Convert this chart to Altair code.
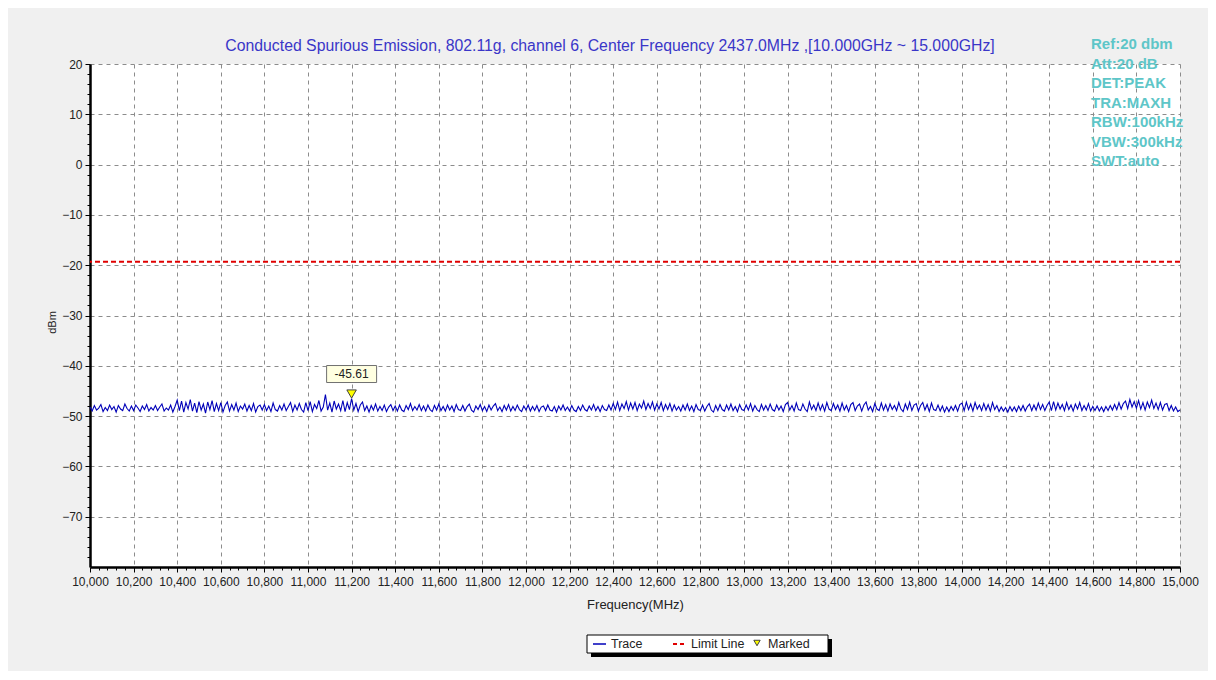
import altair as alt
import pandas as pd

# ---------------- data ----------------
FREQ_START = 10000
FREQ_STEP = 10

trace_10g = [
    -48.2, -49.0, -47.9, -48.8, -48.4, -47.7, -49.1, -48.3, -48.9, -47.8,
    -48.7, -48.1, -49.2, -47.9, -48.6, -48.9, -47.6, -48.5, -49.0, -48.0,
    -48.9, -47.8, -48.4, -49.1, -48.0, -48.7, -47.7, -49.0, -48.3, -48.8,
    -47.9, -48.9, -48.2, -47.6, -49.0, -48.4, -48.8, -47.8, -49.2, -48.1,
    -46.8, -48.9, -47.0, -49.2, -47.3, -48.6, -46.7, -49.0, -47.4, -49.3,
    -47.1, -48.8, -47.6, -49.4, -47.2, -48.7, -46.9, -49.1, -47.5, -48.9,
    -47.3, -49.2, -47.9, -47.2, -49.0, -47.7, -48.8, -47.4, -49.1, -48.0,
    -48.6, -47.6, -49.0, -47.9, -48.9, -47.5, -49.2, -48.1, -47.8, -48.8,
    -47.7, -48.9, -48.0, -49.1, -47.4, -48.7, -49.0, -47.9, -48.8, -47.6,
    -48.9, -48.1, -47.3, -49.1, -47.8, -48.8, -47.5, -48.7, -49.2, -47.3,
]
trace_11g = [
    -48.9, -47.1, -49.1, -47.7, -48.5, -46.9, -49.0, -48.2, -45.7, -48.8,
    -47.4, -49.2, -47.0, -48.6, -47.6, -48.9, -46.9, -49.1, -47.3, -48.7,
    -46.5, -48.8, -47.5, -49.1, -47.8, -47.2, -48.9, -48.0, -49.2, -47.9,
    -48.8, -47.6, -49.0, -48.1, -48.9, -47.8, -49.1, -48.2, -47.7, -48.9,
    -48.0, -49.0, -47.8, -48.8, -49.1, -47.9, -48.7, -47.5, -48.9, -48.1,
    -48.8, -47.7, -48.9, -48.0, -49.0, -47.8, -48.7, -49.1, -47.9, -48.8,
    -47.6, -48.9, -48.1, -49.0, -47.8, -48.8, -48.0, -49.1, -47.7, -48.7,
    -48.9, -47.9, -49.0, -48.1, -47.6, -48.8, -49.2, -48.0, -48.7, -47.7,
    -48.9, -48.1, -49.1, -47.8, -48.8, -48.0, -47.5, -48.9, -48.2, -49.1,
    -47.9, -48.8, -47.7, -49.0, -48.1, -48.9, -47.8, -48.7, -49.1, -48.0,
]
trace_12g = [
    -48.8, -47.8, -49.0, -48.1, -48.9, -47.9, -49.1, -48.2, -48.0, -48.9,
    -47.8, -48.8, -49.0, -48.1, -49.2, -48.0, -48.8, -47.8, -48.9, -48.2,
    -49.0, -47.9, -48.8, -49.1, -48.1, -48.9, -47.8, -48.7, -49.0, -48.0,
    -48.8, -47.7, -48.9, -48.1, -49.1, -47.9, -48.7, -48.9, -47.8, -48.8,
    -47.5, -48.7, -47.2, -48.9, -47.6, -48.5, -47.1, -48.8, -47.4, -48.6,
    -47.3, -48.9, -47.6, -48.4, -47.0, -48.7, -47.5, -48.5, -47.2, -48.8,
    -47.6, -48.6, -47.3, -48.9, -47.7, -48.7, -47.5, -49.0, -47.8, -48.8,
    -48.1, -49.0, -47.8, -48.8, -47.6, -48.9, -48.0, -49.1, -47.7, -48.7,
    -48.9, -47.8, -49.0, -48.1, -47.5, -48.8, -49.2, -47.9, -48.9, -47.7,
    -48.7, -49.0, -47.8, -48.8, -47.6, -48.9, -48.1, -49.1, -47.7, -48.7,
]
trace_13g = [
    -48.9, -47.8, -48.8, -47.5, -49.0, -47.9, -48.7, -49.1, -47.7, -48.8,
    -47.9, -48.9, -47.6, -48.7, -49.0, -47.8, -48.8, -48.0, -49.1, -47.7,
    -47.3, -48.8, -47.9, -49.0, -47.4, -48.7, -48.9, -47.6, -48.6, -49.1,
    -47.2, -48.7, -47.8, -48.9, -47.4, -48.8, -47.7, -49.0, -47.3, -48.6,
    -48.9, -47.5, -48.7, -47.8, -49.0, -47.4, -48.8, -47.9, -49.1, -47.7,
    -47.3, -48.9, -48.0, -47.6, -49.0, -47.8, -47.2, -48.8, -48.1, -49.1,
    -47.5, -48.6, -48.9, -47.4, -48.8, -47.7, -49.0, -47.6, -48.7, -47.9,
    -48.9, -47.3, -48.6, -49.1, -47.6, -48.7, -47.2, -48.9, -47.8, -47.5,
    -49.0, -47.9, -47.3, -48.8, -47.7, -49.1, -47.4, -48.7, -48.9, -47.8,
    -49.0, -48.0, -49.2, -48.2, -49.1, -48.1, -48.9, -47.9, -49.0, -47.7,
]
trace_14g = [
    -47.4, -48.9, -47.2, -48.7, -47.6, -49.0, -47.3, -48.6, -47.8, -48.9,
    -47.5, -48.8, -47.7, -49.0, -47.3, -48.7, -47.9, -49.1, -48.2, -49.0,
    -48.3, -49.2, -48.1, -49.0, -48.2, -49.1, -48.0, -48.9, -47.9, -49.0,
    -48.1, -47.6, -48.9, -47.8, -48.8, -47.4, -48.7, -47.7, -48.9, -47.9,
    -47.2, -48.9, -47.1, -48.8, -47.4, -48.6, -47.7, -48.9, -47.3, -48.7,
    -47.8, -49.0, -47.6, -48.6, -47.3, -48.9, -47.9, -48.8, -47.5, -49.0,
    -48.1, -48.9, -48.0, -49.0, -48.2, -49.1, -48.1, -48.9, -47.9, -48.8,
    -47.7, -48.7, -47.3, -48.6, -47.5, -47.0, -48.5, -46.7, -48.2, -47.1,
    -48.4, -46.9, -48.6, -47.3, -48.8, -47.2, -48.3, -46.8, -48.5, -47.4,
    -48.7, -47.3, -48.8, -47.7, -47.5, -48.9, -47.9, -49.0, -48.2, -49.1,
]
trace_15g = [-48.8]

limit_level = [-19.3]
marker_freq = [11200]
marker_value = [-45.61]

x_ticks = list(range(10000, 15001, 200))
y_ticks = [20, 10, 0, -10, -20, -30, -40, -50, -60, -70]

title_text = ("Conducted Spurious Emission, 802.11g, channel 6, "
              "Center Frequency 2437.0MHz ,[10.000GHz ~ 15.000GHz]")
info_lines = ["Ref:20 dbm", "Att:20 dB", "DET:PEAK", "TRA:MAXH",
              "RBW:100kHz", "VBW:300kHz", "SWT:auto"]

# ---------------- tables ----------------
trace_vals = trace_10g + trace_11g + trace_12g + trace_13g + trace_14g + trace_15g
trace_df = pd.DataFrame({
    "freq": [FREQ_START + FREQ_STEP * i for i in range(len(trace_vals))],
    "dbm": trace_vals,
})
limit_df = pd.DataFrame({"dbm": limit_level})
marker_df = pd.DataFrame({"freq": marker_freq, "dbm": marker_value,
                          "label": [f"{v:.2f}" for v in marker_value]})
one = pd.DataFrame({"a": [0]})

FONT = "Liberation Sans"
W, H = 1090, 503

xscale = alt.Scale(domain=[10000, 15000], nice=False, zero=False)
yscale = alt.Scale(domain=[-80, 20], nice=False, zero=False)

main_x_axis = alt.Axis(
    values=x_ticks, format=",d", orient="bottom", grid=True,
    gridColor="#8c8c8c", gridDash=[4, 4], gridWidth=1,
    domainColor="#000000", domainWidth=2.5, tickColor="#000000", tickSize=5,
    labelFont=FONT, labelFontSize=12, labelColor="#222222", labelPadding=4,
    labelFlush=False, labelOverlap=False,
    title="Frequency(MHz)", titleFont=FONT, titleFontSize=13,
    titleFontWeight="normal", titleColor="#222222",
    titleX=W / 2, titleY=37, titleBaseline="middle",
)
main_y_axis = alt.Axis(
    values=y_ticks, format="d", orient="left", grid=True,
    gridColor="#8c8c8c", gridDash=[4, 4], gridWidth=1,
    domainColor="#000000", domainWidth=2.5, tickColor="#000000", tickSize=5,
    labelFont=FONT, labelFontSize=12, labelColor="#222222", labelPadding=3,
    title="dBm", titleFont=FONT, titleFontSize=11, titleFontWeight="normal",
    titleColor="#222222", titleAngle=-90, titleX=-38, titleY=258,
    titleAlign="center", titleBaseline="middle",
)
minor_x_axis = alt.Axis(
    values=[v for v in range(10000, 15001, 40) if v % 200], orient="bottom",
    grid=False, labels=False, domain=False, tickColor="#000000", tickSize=3,
    title=None,
)
minor_y_axis = alt.Axis(
    values=[v for v in range(-80, 21, 2) if v % 10], orient="left",
    grid=False, labels=False, domain=False, tickColor="#000000", tickSize=3,
    title=None,
)

trace = alt.Chart(trace_df).mark_line(color="#0000b8", strokeWidth=1.1).encode(
    x=alt.X("freq:Q", scale=xscale, axis=main_x_axis),
    y=alt.Y("dbm:Q", scale=yscale, axis=main_y_axis),
)
minor = alt.Chart(trace_df).mark_line(opacity=0).encode(
    x=alt.X("freq:Q", scale=xscale, axis=minor_x_axis),
    y=alt.Y("dbm:Q", scale=yscale, axis=minor_y_axis),
)
limit = alt.Chart(limit_df).mark_rule(
    color="#e00000", strokeWidth=2, strokeDash=[5, 3]
).encode(y=alt.Y("dbm:Q", scale=yscale, axis=None))

label_box = alt.Chart(marker_df).mark_point(
    shape="M-1,-0.34L1,-0.34L1,0.34L-1,0.34Z", size=2500, filled=True,
    fill="#ffffe1", stroke="#707070", strokeWidth=1, opacity=1, yOffset=-20,
).encode(
    x=alt.X("freq:Q", scale=xscale, axis=None),
    y=alt.Y("dbm:Q", scale=yscale, axis=None),
)
label_text = alt.Chart(marker_df).mark_text(
    font=FONT, fontSize=12, color="#222222", dy=-20, baseline="middle",
).encode(
    x=alt.X("freq:Q", scale=xscale, axis=None),
    y=alt.Y("dbm:Q", scale=yscale, axis=None),
    text="label:N",
)
marker = alt.Chart(marker_df).mark_point(
    shape="triangle-down", size=90, filled=True, fill="#ffff00",
    stroke="#404040", strokeWidth=1, opacity=1,
).encode(
    x=alt.X("freq:Q", scale=xscale, axis=None),
    y=alt.Y("dbm:Q", scale=yscale, axis=None),
)

title = alt.Chart(one).mark_text(
    text=title_text, font=FONT, fontSize=15.8, color="#3a36c8",
    align="center", baseline="middle",
).encode(x=alt.value(520), y=alt.value(-18))

info = alt.Chart(one).mark_text(
    text=info_lines, font=FONT, fontSize=15, fontWeight="bold",
    color="#5ec6c8", align="left", baseline="middle", lineHeight=19.5,
).encode(x=alt.value(1001), y=alt.value(-20))

# legend (drawn by hand)
LY = 580
leg_shadow = alt.Chart(one).mark_rect(color="#000000").encode(
    x=alt.value(501), x2=alt.value(742), y=alt.value(575), y2=alt.value(593))
leg_box = alt.Chart(one).mark_rect(
    fill="#ffffff", stroke="#000000", strokeWidth=1
).encode(x=alt.value(497), x2=alt.value(738), y=alt.value(571), y2=alt.value(589))
leg_trace = alt.Chart(one).mark_rule(color="#0000b8", strokeWidth=1.5).encode(
    x=alt.value(503), x2=alt.value(516), y=alt.value(LY))
leg_limit = alt.Chart(one).mark_rule(
    color="#e00000", strokeWidth=2, strokeDash=[4, 3]
).encode(x=alt.value(583), x2=alt.value(597), y=alt.value(LY))
leg_mark = alt.Chart(one).mark_point(
    shape="triangle-down", size=40, filled=True, fill="#ffff00",
    stroke="#404040", strokeWidth=1, opacity=1,
).encode(x=alt.value(667), y=alt.value(LY - 1))
leg_texts = [
    alt.Chart(one).mark_text(
        text=t, font=FONT, fontSize=12.5, color="#222222", align="left",
        baseline="middle",
    ).encode(x=alt.value(xp), y=alt.value(LY))
    for t, xp in [("Trace", 521), ("Limit Line", 601), ("Marked", 678)]
]

chart = alt.layer(
    minor, trace, limit, label_box, label_text, marker, title, info,
    leg_shadow, leg_box, leg_trace, leg_limit, leg_mark, *leg_texts,
).resolve_axis(
    x="independent", y="independent"
).properties(
    width=W, height=H,
    padding={"left": 82, "top": 56, "right": 28, "bottom": 104},
    autosize=alt.AutoSizeParams(type="none"),
    background="#f0f0f0",
).configure_view(fill="#ffffff", stroke=None)

chart.save("out.html", embed_options={"renderer": "svg", "actions": False})
